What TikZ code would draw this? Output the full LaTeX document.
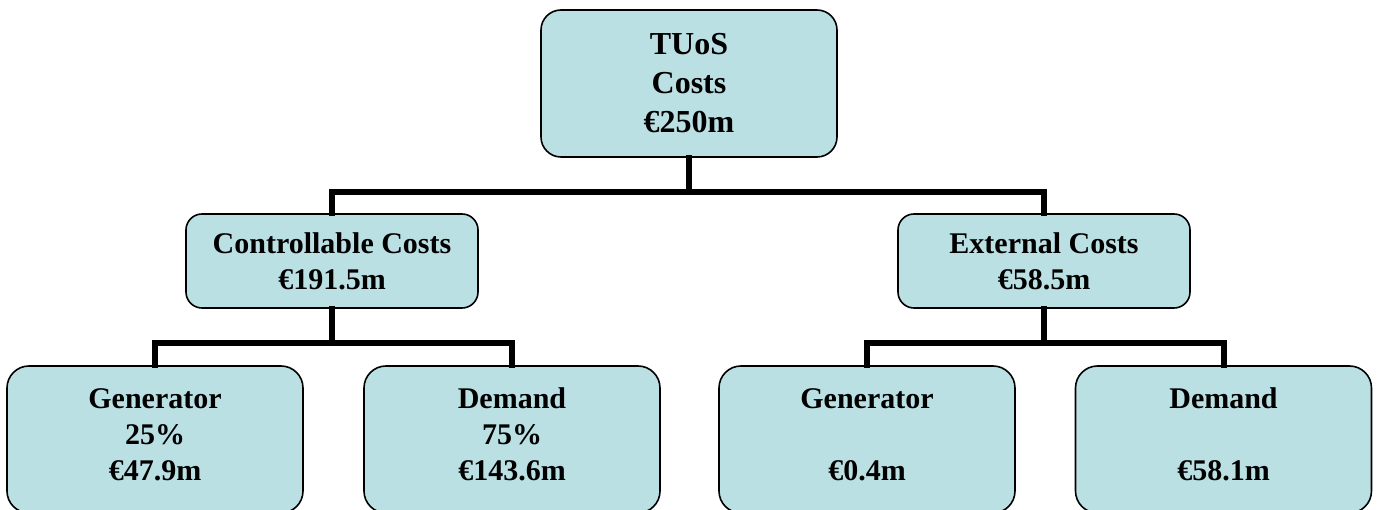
\documentclass[tikz,border=0pt]{standalone}
\usepackage{fontspec}
\setmainfont{Liberation Serif}
\definecolor{boxfill}{RGB}{187,224,227}
\newcommand{\lowpad}{\rule[-10pt]{0pt}{0pt}}
\tikzset{
  box/.style={draw=black, line width=1.6pt, fill=boxfill, align=center,
    inner sep=0pt, font=\bfseries\fontsize{30}{36}\selectfont},
  topbox/.style={box, rounded corners=20pt, minimum width=296pt, minimum height=147pt,
    font=\bfseries\fontsize{32}{39}\selectfont},
  midbox/.style={box, rounded corners=16pt, minimum width=292pt, minimum height=94pt},
  leafbox/.style={box, rounded corners=22pt, minimum width=296pt, minimum height=147pt},
  link/.style={line width=6pt, line join=miter, line cap=rect}
}
\begin{document}
\begin{tikzpicture}[x=1pt,y=-1pt]
\useasboundingbox (0,0) rectangle (1377,510);
\node[topbox] (top) at (689,83.5) {TUoS\\Costs\\€250m};
\node[midbox] (ctrl) at (332,261) {Controllable Costs\\€191.5m};
\node[midbox] (ext) at (1044,261) {External Costs\\€58.5m};
\node[leafbox] (g1) at (155,439.5) {Generator\\25\%\\€47.9m\lowpad};
\node[leafbox] (d1) at (512,439.5) {Demand\\75\%\\€143.6m\lowpad};
\node[leafbox] (g2) at (867,439.5) {Generator\\\mbox{}\\€0.4m\lowpad};
\node[leafbox] (d2) at (1223.5,439.5) {Demand\\\mbox{}\\€58.1m\lowpad};
\coordinate (bus0) at (689,192);
\coordinate (bus1) at (332,343);
\coordinate (bus2) at (1044,343);
\draw[link] (top.south) -- (bus0);
\draw[link] (ctrl.north) -- (ctrl.north |- bus0) -- (ext.north |- bus0) -- (ext.north);
\draw[link] (ctrl.south) -- (bus1);
\draw[link] (g1.north) -- (g1.north |- bus1) -- (d1.north |- bus1) -- (d1.north);
\draw[link] (ext.south) -- (bus2);
\draw[link] (g2.north) -- (g2.north |- bus2) -- (d2.north |- bus2) -- (d2.north);
\end{tikzpicture}
\end{document}
